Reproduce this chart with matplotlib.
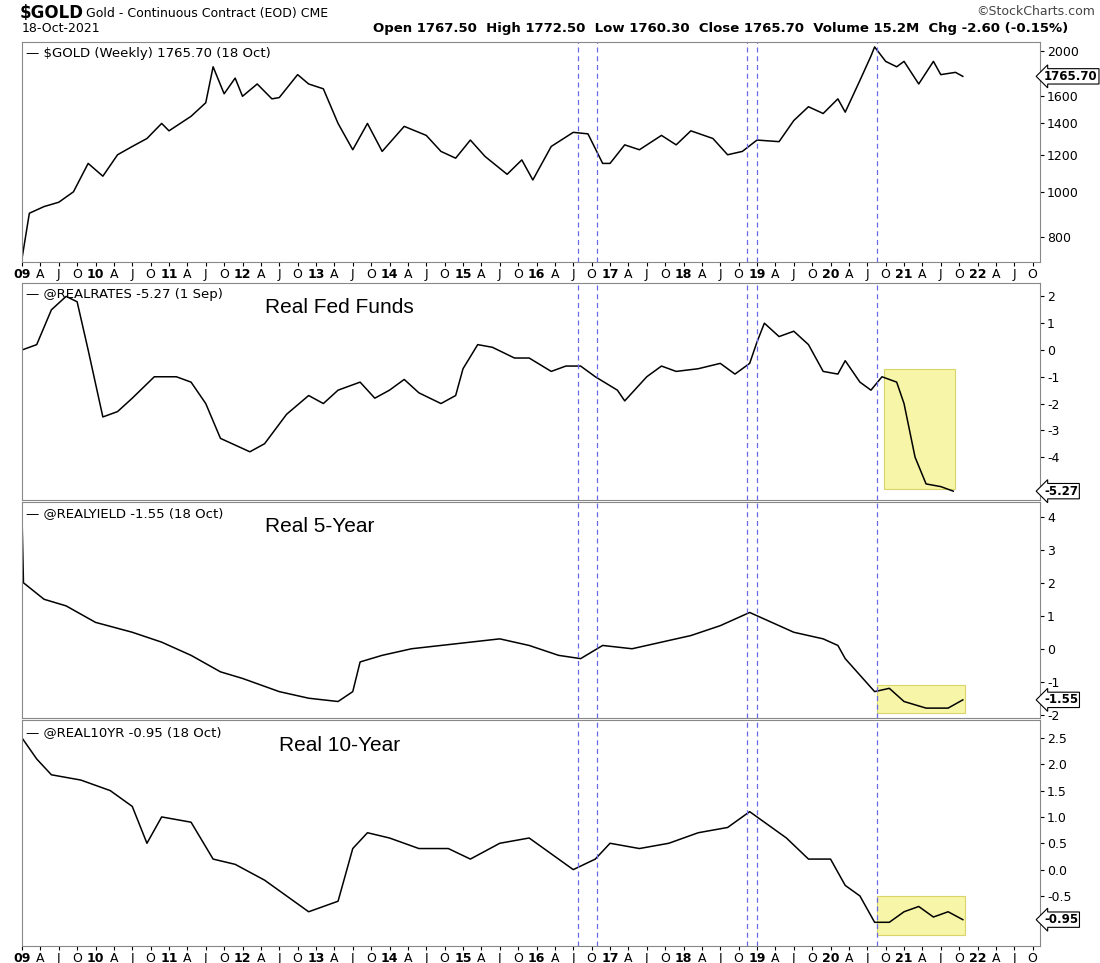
import matplotlib
matplotlib.use("Agg")
import matplotlib.pyplot as plt
import numpy as np

gold_t = [2009.0,2009.1,2009.3,2009.5,2009.7,2009.9,2010.1,2010.3,2010.5,2010.7,2010.9,2011.0,2011.3,2011.5,2011.6,2011.75,2011.9,2012.0,2012.2,2012.4,2012.5,2012.75,2012.9,2013.1,2013.3,2013.5,2013.7,2013.9,2014.2,2014.5,2014.7,2014.9,2015.1,2015.3,2015.6,2015.8,2015.95,2016.2,2016.5,2016.7,2016.9,2017.0,2017.2,2017.4,2017.7,2017.9,2018.1,2018.4,2018.6,2018.8,2019.0,2019.3,2019.5,2019.7,2019.9,2020.1,2020.2,2020.4,2020.55,2020.6,2020.75,2020.9,2021.0,2021.2,2021.4,2021.5,2021.7,2021.8]
gold_v = [720,900,930,950,1000,1150,1080,1200,1250,1300,1400,1350,1450,1550,1850,1620,1750,1600,1700,1580,1590,1780,1700,1660,1400,1230,1400,1220,1380,1320,1220,1180,1290,1190,1090,1170,1060,1250,1340,1330,1150,1150,1260,1230,1320,1260,1350,1300,1200,1220,1290,1280,1420,1520,1470,1580,1480,1730,1950,2040,1900,1850,1900,1700,1900,1780,1800,1765]

ff_t = [2009.0,2009.2,2009.4,2009.6,2009.75,2009.9,2010.1,2010.3,2010.5,2010.8,2011.1,2011.3,2011.5,2011.7,2012.1,2012.3,2012.6,2012.9,2013.1,2013.3,2013.6,2013.8,2014.0,2014.2,2014.4,2014.7,2014.9,2015.0,2015.2,2015.4,2015.7,2015.9,2016.2,2016.4,2016.6,2016.8,2017.1,2017.2,2017.5,2017.7,2017.9,2018.2,2018.5,2018.7,2018.9,2019.0,2019.1,2019.3,2019.5,2019.7,2019.9,2020.1,2020.2,2020.4,2020.55,2020.7,2020.9,2021.0,2021.15,2021.3,2021.5,2021.67]
ff_v = [0.0,0.2,1.5,2.0,1.8,0.0,-2.5,-2.3,-1.8,-1.0,-1.0,-1.2,-2.0,-3.3,-3.8,-3.5,-2.4,-1.7,-2.0,-1.5,-1.2,-1.8,-1.5,-1.1,-1.6,-2.0,-1.7,-0.7,0.2,0.1,-0.3,-0.3,-0.8,-0.6,-0.6,-1.0,-1.5,-1.9,-1.0,-0.6,-0.8,-0.7,-0.5,-0.9,-0.5,0.3,1.0,0.5,0.7,0.2,-0.8,-0.9,-0.4,-1.2,-1.5,-1.0,-1.2,-2.0,-4.0,-5.0,-5.1,-5.27]

r5_t = [2009.0,2009.02,2009.3,2009.6,2010.0,2010.5,2010.9,2011.3,2011.7,2012.0,2012.5,2012.9,2013.3,2013.5,2013.6,2013.9,2014.3,2014.7,2015.1,2015.5,2015.9,2016.3,2016.6,2016.9,2017.3,2017.7,2018.1,2018.5,2018.9,2019.1,2019.5,2019.9,2020.1,2020.2,2020.4,2020.6,2020.8,2021.0,2021.3,2021.6,2021.8]
r5_v = [4.0,2.0,1.5,1.3,0.8,0.5,0.2,-0.2,-0.7,-0.9,-1.3,-1.5,-1.6,-1.3,-0.4,-0.2,0.0,0.1,0.2,0.3,0.1,-0.2,-0.3,0.1,0.0,0.2,0.4,0.7,1.1,0.9,0.5,0.3,0.1,-0.3,-0.8,-1.3,-1.2,-1.6,-1.8,-1.8,-1.55]

r10_t = [2009.0,2009.2,2009.4,2009.8,2010.2,2010.5,2010.7,2010.9,2011.3,2011.6,2011.9,2012.3,2012.6,2012.9,2013.1,2013.3,2013.5,2013.7,2014.0,2014.4,2014.8,2015.1,2015.5,2015.9,2016.2,2016.5,2016.8,2017.0,2017.4,2017.8,2018.2,2018.6,2018.9,2019.1,2019.4,2019.7,2020.0,2020.2,2020.4,2020.6,2020.8,2021.0,2021.2,2021.4,2021.6,2021.8]
r10_v = [2.5,2.1,1.8,1.7,1.5,1.2,0.5,1.0,0.9,0.2,0.1,-0.2,-0.5,-0.8,-0.7,-0.6,0.4,0.7,0.6,0.4,0.4,0.2,0.5,0.6,0.3,0.0,0.2,0.5,0.4,0.5,0.7,0.8,1.1,0.9,0.6,0.2,0.2,-0.3,-0.5,-1.0,-1.0,-0.8,-0.7,-0.9,-0.8,-0.95]

vlines = [2016.56, 2016.82, 2018.86, 2019.0, 2020.63]
X0, X1 = 2009.0, 2022.85

fig = plt.figure(figsize=(11, 9.63), dpi=100)
W, H = 1100, 963
def ax_at(top, bot):
    return fig.add_axes([22/W, 1-bot/H, (1040-22)/W, (bot-top)/H])

panels = [
    dict(top=42, bot=262, t=gold_t, v=gold_v, ylim=(708, 2090), log=True,
         ticks=[800,1000,1200,1400,1600,2000], last="1765.70",
         legend="$GOLD (Weekly) 1765.70 (18 Oct)", title=None, rect=None),
    dict(top=283, bot=500, t=ff_t, v=ff_v, ylim=(-5.6, 2.5), log=False,
         ticks=[2,1,0,-1,-2,-3,-4], last="-5.27",
         legend="@REALRATES -5.27 (1 Sep)", title=("Real Fed Funds", 2012.3),
         rect=(2020.73, 2021.69, -5.2, -0.7)),
    dict(top=502, bot=718, t=r5_t, v=r5_v, ylim=(-2.1, 4.45), log=False,
         ticks=[4,3,2,1,0,-1,-2], last="-1.55",
         legend="@REALYIELD -1.55 (18 Oct)", title=("Real 5-Year", 2012.3),
         rect=(2020.63, 2021.83, -1.95, -1.1)),
    dict(top=720, bot=946, t=r10_t, v=r10_v, ylim=(-1.45, 2.84), log=False,
         ticks=[2.5,2.0,1.5,1.0,0.5,0.0,-0.5], last="-0.95",
         legend="@REAL10YR -0.95 (18 Oct)", title=("Real 10-Year", 2012.5),
         rect=(2020.63, 2021.83, -1.25, -0.5)),
]

def xlabels(ax):
    pos, lab = [], []
    for y in range(2009, 2023):
        for q, m in enumerate(["", "A", "J", "O"]):
            x = y + q*0.25
            if x > X1: continue
            pos.append(x); lab.append(f"{y%100:02d}" if q == 0 else m)
    ax.set_xticks(pos)
    ax.set_xticklabels(lab, fontsize=9)
    for tl in ax.get_xticklabels():
        if tl.get_text().isdigit(): tl.set_fontweight("bold")
    ax.tick_params(axis="x", length=3, pad=1)

for i, p in enumerate(panels):
    ax = ax_at(p["top"], p["bot"])
    if p["log"]:
        ax.set_yscale("log")
    ax.plot(p["t"], p["v"], color="black", lw=1.1)
    ax.set_xlim(X0, X1)
    ax.set_ylim(*p["ylim"])
    ax.yaxis.tick_right()
    ax.set_yticks(p["ticks"])
    ax.set_yticklabels([str(t) if not isinstance(t, float) else f"{t:.1f}" for t in p["ticks"]], fontsize=9)
    ax.yaxis.set_minor_locator(matplotlib.ticker.NullLocator())
    ax.tick_params(axis="y", length=3, pad=2)
    for x in vlines:
        ax.axvline(x, color="#6a6ae8", ls=(0, (4, 3)), lw=0.9)
    if p["rect"]:
        x0, x1, y0, y1 = p["rect"]
        ax.add_patch(plt.Rectangle((x0, y0), x1-x0, y1-y0, facecolor="#f7f5a8",
                                   edgecolor="#d8d46a", lw=0.8, zorder=0))
    ax.annotate(p["last"], xy=(1.0, p["v"][-1]), xycoords=("axes fraction", "data"),
                xytext=(3, 0), textcoords="offset points", va="center", ha="left",
                fontsize=8.5, fontweight="bold",
                bbox=dict(boxstyle="larrow,pad=0.1", fc="white", ec="black", lw=0.8))
    ax.text(0.004, 0.975, "— " + p["legend"], transform=ax.transAxes, fontsize=9.5,
            va="top", ha="left")
    if p["title"]:
        ax.text(p["title"][1], 0.93, p["title"][0], transform=ax.get_xaxis_transform(),
                fontsize=15, va="top", ha="left", family="Liberation Sans")
    if i in (0, 3):
        xlabels(ax)
    else:
        ax.set_xticks([])
    for s in ax.spines.values():
        s.set_color("#888888"); s.set_linewidth(0.8)

fig.text(20/W, 1-4/H, "$GOLD", fontsize=12, fontweight="bold", va="top")
fig.text(86/W, 1-7/H, "Gold - Continuous Contract (EOD) CME", fontsize=9, va="top")
fig.text(22/W, 1-22/H, "18-Oct-2021", fontsize=9, va="top")
fig.text(373/W, 1-22/H, "Open 1767.50  High 1772.50  Low 1760.30  Close 1765.70  Volume 15.2M  Chg -2.60 (-0.15%)",
         fontsize=9.5, fontweight="bold", va="top")
fig.text(1095/W, 1-5/H, "©StockCharts.com", fontsize=9, va="top", ha="right", color="#444444")

fig.savefig("out.png", dpi=100)
